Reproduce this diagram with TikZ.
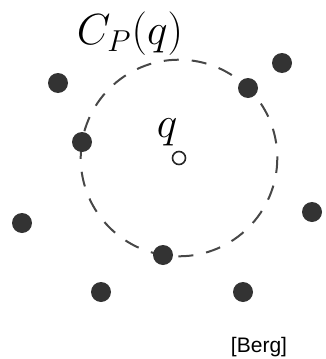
\documentclass[tikz,border=0pt]{standalone}
\usepackage{fontspec}
\newfontfamily\arialfont{Liberation Sans}
\begin{document}
\begin{tikzpicture}[x=1pt,y=-1pt,
  site/.style={circle,fill=black!80,inner sep=0pt,minimum size=20pt},
  query/.style={circle,draw=black!85,line width=1.6pt,fill=white,inner sep=0pt,minimum size=13pt},
  cpath/.style={draw=black!72,line width=2pt,dash pattern=on 15pt off 13pt},
  bigmath/.style={inner sep=0pt,scale=2.1,font=\fontsize{20}{24}\selectfont}]
\useasboundingbox (0,0) rectangle (325,359);
\node[query] (q) at (179,158) {};
\draw[cpath] (q.center) ++(0:98.3) arc[start angle=0,end angle=360,radius=98.3];
\node[site] (p1) at (58,83) {};
\node[site] (p2) at (282,63) {};
\node[site] (p3) at (248,88) {};
\node[site] (p4) at (82,142) {};
\node[site] (p5) at (22,223) {};
\node[site] (p6) at (312,212) {};
\node[site] (p7) at (163,255) {};
\node[site] (p8) at (101,292) {};
\node[site] (p9) at (243,292) {};
\node[bigmath] (lq) at (167,132) {$q$};
\node[bigmath] (lc) at (130,34) {$C_P(q)$};
\node[inner sep=0pt] (cite) at (259,347) {\arialfont\fontsize{21}{24}\selectfont [Berg]};
\end{tikzpicture}
\end{document}
